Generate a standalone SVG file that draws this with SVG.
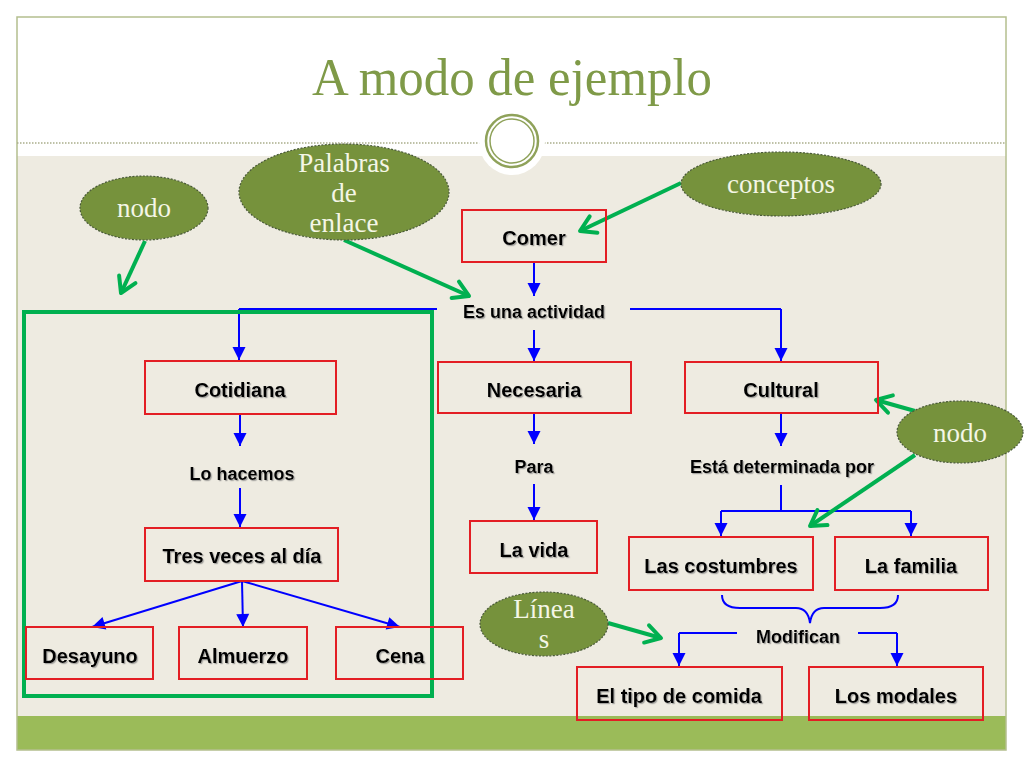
<svg xmlns="http://www.w3.org/2000/svg" width="1024" height="768" viewBox="0 0 1024 768">
<defs>
<style>
.box{fill:none;stroke:#e31e24;stroke-width:2}
.bt{font-family:"Liberation Sans",Arial,sans-serif;font-weight:bold;font-size:20px;fill:#000;text-anchor:middle;filter:url(#sh)}
.lt{font-family:"Liberation Sans",Arial,sans-serif;font-weight:bold;font-size:18px;fill:#000;text-anchor:middle;filter:url(#sh)}
.ell{fill:#76923c;stroke:#4a5a3a;stroke-width:1.2;stroke-dasharray:2 1.5}
.et{font-family:"Liberation Serif","Times New Roman",serif;font-size:27px;fill:#f4f6e6;text-anchor:middle}
.bl{fill:none;stroke:#0000ff;stroke-width:2}
.ba{fill:none;stroke:#0000ff;stroke-width:2;marker-end:url(#ab)}
.ga{fill:none;stroke:#00b050;stroke-width:4;marker-end:url(#ag)}
</style>
<marker id="ab" markerUnits="userSpaceOnUse" markerWidth="16" markerHeight="16" viewBox="-14 -8 16 16" refX="0" refY="0" orient="auto">
<path d="M-13,-6.5 L0,0 L-13,6.5 Z" fill="#0000ff"/>
</marker>
<marker id="ag" markerUnits="userSpaceOnUse" markerWidth="24" markerHeight="24" viewBox="-20 -12 24 24" refX="0" refY="0" orient="auto">
<path d="M-15,-9 L0,0 L-15,9" fill="none" stroke="#00b050" stroke-width="4" stroke-linecap="round" stroke-linejoin="round"/>
</marker>
<filter id="sh" x="-10%" y="-20%" width="130%" height="160%">
<feDropShadow dx="1.2" dy="1.2" stdDeviation="0.6" flood-color="#777" flood-opacity="0.6"/>
</filter>
</defs>

<g id="background">
<rect x="0" y="0" width="1024" height="768" fill="#ffffff"/>
<rect x="17" y="156" width="989" height="560" fill="#eeebe1"/>
<rect x="17" y="716" width="989" height="34" fill="#9bbb59"/>
<rect x="17" y="17" width="989" height="733" fill="none" stroke="#b4bf8e" stroke-width="1.5"/>
<line x1="17" y1="143" x2="480" y2="143" stroke="#a9ad8a" stroke-width="1.5" stroke-dasharray="1.5 1.5"/>
<line x1="544" y1="143" x2="1006" y2="143" stroke="#a9ad8a" stroke-width="1.5" stroke-dasharray="1.5 1.5"/>
<circle cx="512" cy="142" r="33" fill="#ffffff"/>
<circle cx="512" cy="141" r="26" fill="none" stroke="#8fa25a" stroke-width="2.5"/>
<circle cx="512" cy="141" r="22" fill="none" stroke="#8fa25a" stroke-width="1.5"/>
<text x="512" y="95" font-family="'Liberation Serif','Times New Roman',serif" font-size="52" fill="#7f9a48" text-anchor="middle" textLength="400" lengthAdjust="spacingAndGlyphs">A modo de ejemplo</text>
</g>

<g id="connectors">
<path class="ba" d="M534,263 V296"/>
<path class="bl" d="M437,309 H239"/>
<path class="ba" d="M239,309 V360"/>
<path class="bl" d="M630,309 H781"/>
<path class="ba" d="M781,309 V361"/>
<path class="ba" d="M534,330 V361"/>
<path class="ba" d="M240,414 V446"/>
<path class="ba" d="M240,488 V527"/>
<path class="ba" d="M242,581 L92,627"/>
<path class="ba" d="M242,581 L243,627"/>
<path class="ba" d="M242,581 L400,627"/>
<path class="ba" d="M534,413 V444"/>
<path class="ba" d="M534,484 V520"/>
<path class="ba" d="M781,413 V446"/>
<path class="bl" d="M781,485 V511"/>
<path class="bl" d="M721,511 H911"/>
<path class="ba" d="M721,511 V536"/>
<path class="ba" d="M911,511 V536"/>
<path class="bl" d="M722,595 Q722,608 740,608 H796 Q808,608 810,623 Q812,608 824,608 H880 Q898,608 898,595"/>
<path class="bl" d="M737,633 H679"/>
<path class="ba" d="M679,633 V666"/>
<path class="bl" d="M858,633 H897"/>
<path class="ba" d="M897,633 V666"/>
<path class="ga" d="M681,183 L580,231"/>
<path class="ga" d="M344,240 L469,296"/>
<path class="ga" d="M145,241 L121,293"/>
<path class="ga" d="M915,411 L876,400"/>
<path class="ga" d="M915,455 L810,526"/>
<path class="ga" d="M608,623 L661,638"/>
<rect x="24" y="312" width="408" height="384" fill="none" stroke="#00b050" stroke-width="4"/>
</g>

<g id="n-comer"><rect class="box" x="462" y="210" width="144" height="52"/><text class="bt" x="534" y="245">Comer</text></g>
<g id="n-es-una-actividad"><text class="lt" x="534" y="318">Es una actividad</text></g>
<g id="n-cotidiana"><rect class="box" x="145" y="361" width="191" height="53"/><text class="bt" x="240" y="397">Cotidiana</text></g>
<g id="n-necesaria"><rect class="box" x="438" y="362" width="193" height="51"/><text class="bt" x="534" y="397">Necesaria</text></g>
<g id="n-cultural"><rect class="box" x="685" y="362" width="193" height="51"/><text class="bt" x="781" y="397">Cultural</text></g>
<g id="n-lo-hacemos"><text class="lt" x="242" y="480">Lo hacemos</text></g>
<g id="n-para"><text class="lt" x="534" y="473">Para</text></g>
<g id="n-esta-determinada"><text class="lt" x="782" y="473">Está determinada por</text></g>
<g id="n-tres-veces"><rect class="box" x="145" y="528" width="193" height="53"/><text class="bt" x="242" y="563">Tres veces al día</text></g>
<g id="n-la-vida"><rect class="box" x="470" y="521" width="127" height="52"/><text class="bt" x="534" y="557">La vida</text></g>
<g id="n-las-costumbres"><rect class="box" x="629" y="537" width="184" height="53"/><text class="bt" x="721" y="573">Las costumbres</text></g>
<g id="n-la-familia"><rect class="box" x="835" y="537" width="153" height="53"/><text class="bt" x="911" y="573">La familia</text></g>
<g id="n-desayuno"><rect class="box" x="26" y="627" width="127" height="52"/><text class="bt" x="90" y="663">Desayuno</text></g>
<g id="n-almuerzo"><rect class="box" x="179" y="627" width="128" height="52"/><text class="bt" x="243" y="663">Almuerzo</text></g>
<g id="n-cena"><rect class="box" x="336" y="627" width="127" height="52"/><text class="bt" x="400" y="663">Cena</text></g>
<g id="n-modifican"><text class="lt" x="798" y="643">Modifican</text></g>
<g id="n-el-tipo"><rect class="box" x="577" y="667" width="205" height="53"/><text class="bt" x="679" y="703">El tipo de comida</text></g>
<g id="n-los-modales"><rect class="box" x="809" y="667" width="174" height="53"/><text class="bt" x="896" y="703">Los modales</text></g>

<g id="e-nodo-left"><ellipse class="ell" cx="144" cy="208" rx="64" ry="32"/><text class="et" x="144" y="217">nodo</text></g>
<g id="e-palabras"><ellipse class="ell" cx="344" cy="192" rx="105" ry="48"/><text class="et" x="344" y="172">Palabras</text><text class="et" x="344" y="202">de</text><text class="et" x="344" y="232">enlace</text></g>
<g id="e-conceptos"><ellipse class="ell" cx="781" cy="184" rx="100" ry="32"/><text class="et" x="781" y="193">conceptos</text></g>
<g id="e-nodo-right"><ellipse class="ell" cx="960" cy="432" rx="63" ry="31"/><text class="et" x="960" y="442">nodo</text></g>
<g id="e-lineas"><ellipse class="ell" cx="544" cy="624" rx="64" ry="32"/><text class="et" x="544" y="618">Línea</text><text class="et" x="544" y="648">s</text></g>
</svg>
